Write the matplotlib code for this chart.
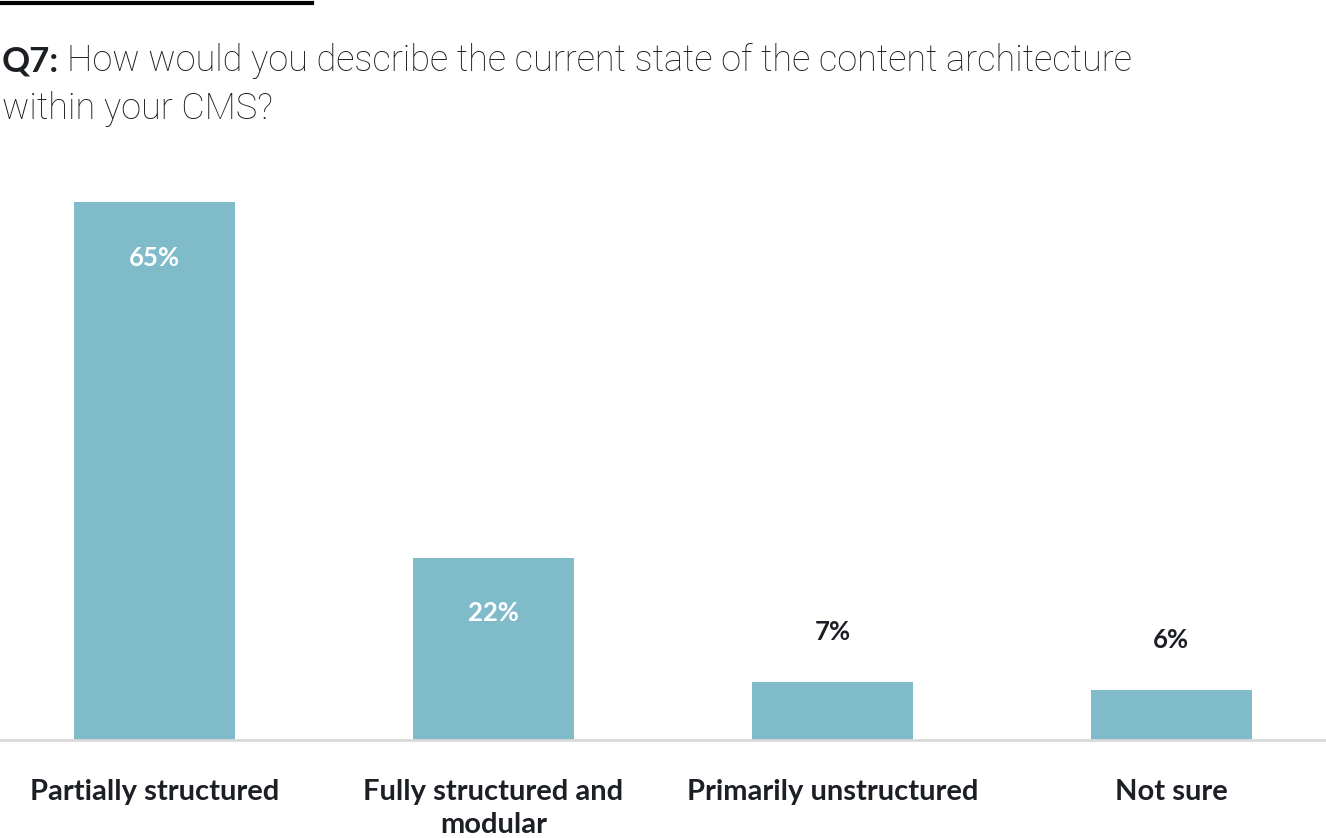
import matplotlib
matplotlib.use("Agg")
import matplotlib.pyplot as plt
from matplotlib.lines import Line2D

categories = ["Partially structured", "Fully structured and\nmodular",
              "Primarily unstructured", "Not sure"]
values = [65, 22, 7, 6]
labels = ["65%", "22%", "7%", "6%"]

bar_color = "#80bbca"
text_color = "#1c1f24"
font = "Lato"
title_font = "Roboto"

W, H = 1326, 838
fig = plt.figure(figsize=(W / 100, H / 100), dpi=100)

# axes spans full width, baseline at y=740 px, top at 202 px
ax = fig.add_axes([0, 98 / H, 1, 538 / H])
x = list(range(len(values)))
ax.bar(x, values, width=0.475, color=bar_color)
ax.set_xlim(-0.456, 3.456)
ax.set_ylim(0, 65)
ax.axis("off")
ax.axhline(0, color="#d9d9d9", lw=2, clip_on=False)

for xi, v, lab in zip(x, values, labels):
    if v > 15:
        ax.annotate(lab, (xi, v), xytext=(0, -40), textcoords="offset points",
                    ha="center", va="center", color="white", fontsize=18.5,
                    fontweight="bold", family=font)
    else:
        ax.annotate(lab, (xi, v), xytext=(0, 36), textcoords="offset points",
                    ha="center", va="center", color=text_color, fontsize=18.5,
                    fontweight="bold", family=font)

for xi, cat in zip(x, categories):
    ax.annotate(cat, (xi, 0), xytext=(0, -28), textcoords="offset points",
                ha="center", va="top", color=text_color, fontsize=21,
                fontweight="bold", family=font, linespacing=1.35,
                annotation_clip=False)

# short black rule at top left
fig.add_artist(Line2D([0, 312 / W], [1 - 3 / H, 1 - 3 / H], color="black", lw=3))

# title: bold "Q7:" followed by light text
t1 = fig.text(2 / W, 1 - 71 / H, "Q7:", fontsize=25, fontweight="bold",
              color=text_color, family=font, va="baseline")
fig.canvas.draw()
bb = t1.get_window_extent()
fig.text(bb.x1 / W + 8 / W, 1 - 71 / H,
         "How would you describe the current state of the content architecture",
         fontsize=26, fontweight="light", color=text_color, family=title_font,
         va="baseline")
fig.text(2 / W, 1 - 119 / H, "within your CMS?", fontsize=26,
         fontweight="light", color=text_color, family=title_font, va="baseline")

fig.savefig("out.png", dpi=100)
